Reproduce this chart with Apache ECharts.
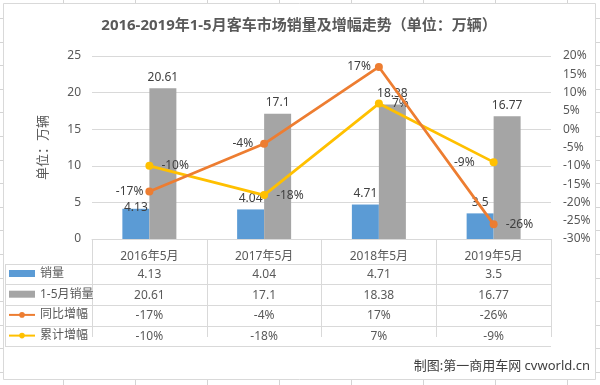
<!DOCTYPE html>
<html>
<head>
<meta charset="utf-8">
<script src="https://cdn.jsdelivr.net/npm/echarts@6/dist/echarts.min.js"></script>
<style>html,body{margin:0;padding:0;background:#fff}#c{width:600px;height:385px}</style>
</head>
<body>
<div id="c"></div>
<script>
// ---- data ----
const categories = ['2016年5月', '2017年5月', '2018年5月', '2019年5月'];
const sales = [4.13, 4.04, 4.71, 3.5];          // 销量 (万辆)
const ytdSales = [20.61, 17.1, 18.38, 16.77];   // 1-5月销量 (万辆)
const yoyGrowth = [-17, -4, 17, -26];           // 同比增幅 (%)
const ytdGrowth = [-10, -18, 7, -9];            // 累计增幅 (%)
const seriesNames = ['销量', '1-5月销量', '同比增幅', '累计增幅'];
const titleText = '2016-2019年1-5月客车市场销量及增幅走势（单位：万辆）';
const yAxisName = '单位：万辆';
const footerText = '制图:第一商用车网 cvworld.cn';

// ---- layout ----
const FONT = '"Noto Sans", "Noto Sans CJK SC", sans-serif';
const TXT = '#595959';
const LINE = '#D9D9D9';
const GL = 92, GR = 551, GT = 56, GB = 239;
const TABLE_TOP = 248, HEADER_H = 15.6, ROW_H = 20.7, TABLE_LEFT = 5;
const nRows = 4;

const chart = echarts.init(document.getElementById('c'), null, {renderer: 'canvas'});

const graphics = [];
// chart border
graphics.push({type: 'rect', shape: {x: 3.5, y: 3.5, width: 592, height: 376}, style: {fill: null, stroke: LINE, lineWidth: 1}, silent: true, z: -10});
// spreadsheet cell lines outside the chart
for (let x = 63; x < 600; x += 72) {
  graphics.push({type: 'line', shape: {x1: x + 0.5, y1: 0, x2: x + 0.5, y2: 3}, style: {stroke: '#D4D4D4'}, silent: true});
  graphics.push({type: 'line', shape: {x1: x + 0.5, y1: 380, x2: x + 0.5, y2: 385}, style: {stroke: '#D4D4D4'}, silent: true});
}
for (let y = 18; y < 385; y += 23.6) {
  const yy = Math.round(y) + 0.5;
  graphics.push({type: 'line', shape: {x1: 0, y1: yy, x2: 3, y2: yy}, style: {stroke: '#D4D4D4'}, silent: true});
  graphics.push({type: 'line', shape: {x1: 596, y1: yy, x2: 600, y2: yy}, style: {stroke: '#D4D4D4'}, silent: true});
}
// table rows
const rowTop = TABLE_TOP + HEADER_H;
for (let k = 0; k <= nRows; k++) {
  const y = Math.round(rowTop + k * ROW_H) + 0.5;
  graphics.push({type: 'line', shape: {x1: TABLE_LEFT, y1: y, x2: GR, y2: y}, style: {stroke: LINE, lineWidth: 1}, silent: true});
}
graphics.push({type: 'line', shape: {x1: TABLE_LEFT + 0.5, y1: Math.round(rowTop) + 0.5, x2: TABLE_LEFT + 0.5, y2: Math.round(rowTop + nRows * ROW_H) + 0.5}, style: {stroke: LINE, lineWidth: 1}, silent: true});
// footer
graphics.push({type: 'text', right: 10, top: 360, style: {text: footerText, font: '13px ' + FONT, fill: '#404040'}, silent: true});

const lblBase = {show: true, fontSize: 12, color: '#404040', fontFamily: FONT};
function pctItems(vals, pos, dist) {
  return vals.map((v, i) => ({value: v, label: Object.assign({}, lblBase, {position: pos[i], distance: dist[i], formatter: v + '%'})}));
}

const option = {
  animation: false,
  backgroundColor: '#fff',
  textStyle: {fontFamily: FONT},
  title: {
    text: titleText, left: 294, textAlign: 'center', top: 13,
    textStyle: {fontSize: 15, fontWeight: 'bold', color: TXT, fontFamily: FONT}
  },
  legend: {
    orient: 'vertical', left: 8, top: 266.5, padding: 0,
    itemWidth: 26, itemHeight: 7, itemGap: 6.7,
    textStyle: {fontSize: 12, color: TXT, lineHeight: 14, fontFamily: FONT},
    data: [
      {name: seriesNames[0], icon: 'rect'},
      {name: seriesNames[1], icon: 'rect'},
      seriesNames[2], seriesNames[3]
    ]
  },
  grid: {left: GL, right: 600 - GR, top: GT, bottom: 385 - GB, containLabel: false},
  xAxis: {
    type: 'category', data: categories, offset: TABLE_TOP - GB,
    axisLine: {show: true, lineStyle: {color: LINE}},
    axisTick: {show: true, length: Math.round(rowTop + nRows * ROW_H) - TABLE_TOP, lineStyle: {color: LINE}, alignWithLabel: false, interval: 0},
    axisLabel: {
      interval: 0, margin: 0.5, color: TXT, fontSize: 12, fontFamily: FONT,
      formatter: (v, i) => `{h|${v}}\n{r|${sales[i]}}\n{r|${ytdSales[i]}}\n{r|${yoyGrowth[i]}%}\n{r|${ytdGrowth[i]}%}`,
      rich: {
        h: {lineHeight: HEADER_H, fontSize: 12, color: TXT, fontFamily: FONT},
        r: {lineHeight: ROW_H, fontSize: 12, color: TXT, fontFamily: FONT}
      }
    }
  },
  yAxis: [
    {
      type: 'value', min: 0, max: 25, interval: 5,
      name: yAxisName, nameLocation: 'middle', nameGap: 42,
      nameTextStyle: {fontSize: 13, color: TXT, fontFamily: FONT},
      axisLine: {show: false}, axisTick: {show: false},
      axisLabel: {color: TXT, fontSize: 12, margin: 11, fontFamily: FONT},
      splitLine: {lineStyle: {color: LINE}}
    },
    {
      type: 'value', min: -30, max: 20, interval: 5, position: 'right',
      axisLine: {show: false}, axisTick: {show: false},
      axisLabel: {color: TXT, fontSize: 12, margin: 12, formatter: '{value}%', fontFamily: FONT},
      splitLine: {show: false}
    }
  ],
  series: [
    {
      name: seriesNames[0], type: 'bar', barWidth: 27, barGap: '0%',
      itemStyle: {color: '#5B9BD5'},
      label: Object.assign({}, lblBase, {position: 'top', distance: 5}),
      data: sales.map((v, i) => i === 0 ? {value: v, label: {offset: [0, 10]}} : v)
    },
    {
      name: seriesNames[1], type: 'bar', barWidth: 27, barGap: '0%',
      itemStyle: {color: '#A5A5A5'},
      label: Object.assign({}, lblBase, {position: 'top', distance: 5}),
      data: ytdSales
    },
    {
      name: seriesNames[2], type: 'line', yAxisIndex: 1,
      symbol: 'circle', symbolSize: 8,
      lineStyle: {color: '#ED7D31', width: 2.75}, itemStyle: {color: '#ED7D31'},
      data: pctItems(yoyGrowth, ['left', 'left', 'left', 'right'], [2, 7, 4, 8]),
      z: 5
    },
    {
      name: seriesNames[3], type: 'line', yAxisIndex: 1,
      symbol: 'circle', symbolSize: 8,
      lineStyle: {color: '#FFC000', width: 2.75}, itemStyle: {color: '#FFC000'},
      data: pctItems(ytdGrowth, ['right', 'right', 'right', 'left'], [8, 8, 9, 15]),
      z: 4
    }
  ],
  graphic: graphics
};
chart.setOption(option);
</script>
</body>
</html>
